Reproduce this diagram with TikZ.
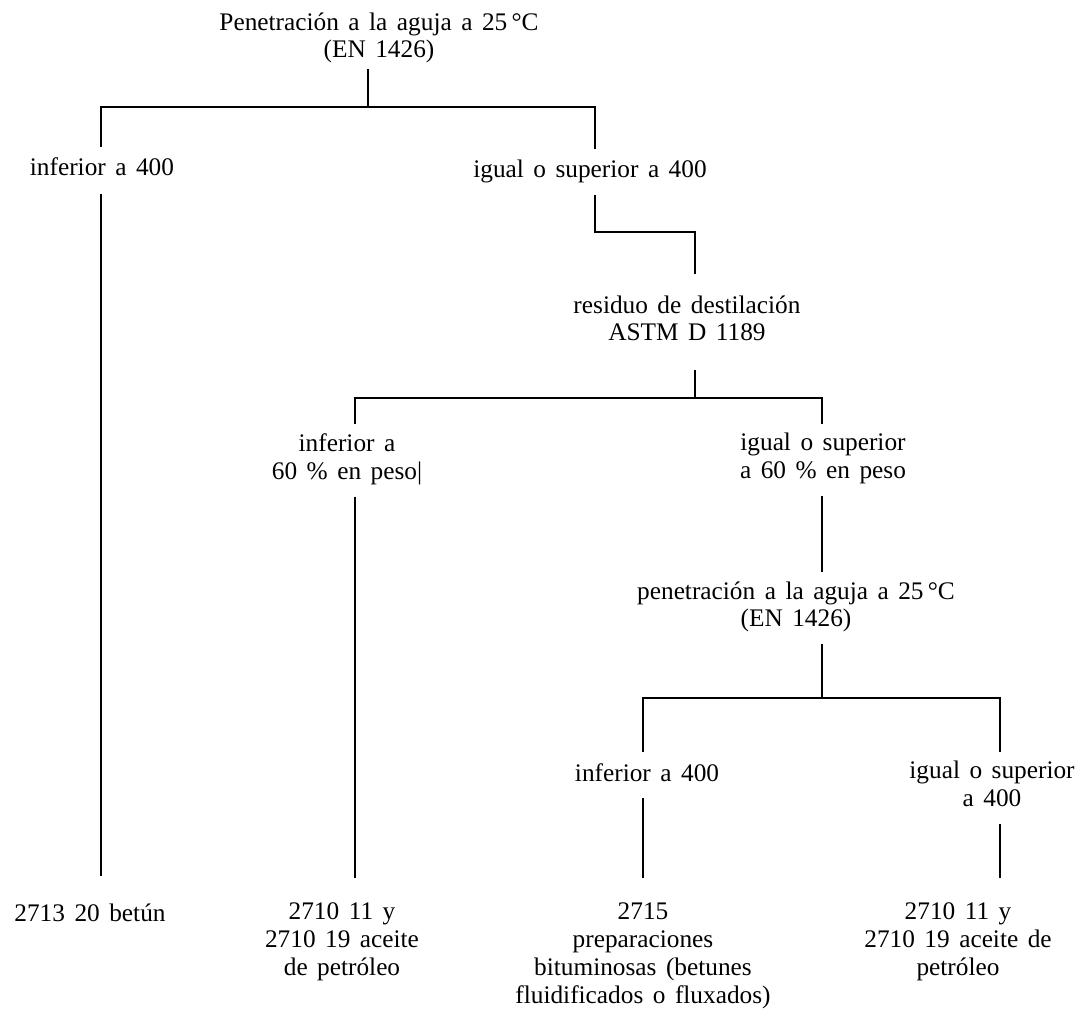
\documentclass[tikz,border=0pt]{standalone}
\usepackage{fontspec}
\setmainfont{Liberation Serif}[WordSpace=1.5]
\usepackage{tikz}
\usetikzlibrary{positioning}
\usetikzlibrary{calc}

\begin{document}
\begin{tikzpicture}[
    x=0.025cm, y=-0.025cm,
    lbl/.style={inner sep=0pt, outer sep=6.4pt, align=center, font=\fontsize{18}{19.9}\selectfont,
        execute at begin node=\strut, execute at end node=\strut},
    leaf/.style={lbl, outer sep=17.8pt},
    link/.style={line width=2.1pt}
]
    \useasboundingbox (0,0) rectangle (1079,1012);

    % texts
    \node[lbl, outer sep=2pt] (top) at (379,39.4) {Penetración a la aguja a 25\,°C\\(EN 1426)};
    \node[lbl, outer sep=7pt] (inf1) at (102,170.4) {inferior a 400};
    \node[lbl] (sup1) at (590,172.4) {igual o superior a 400};
    \node[lbl, outer sep=14.9pt] (res) at (687,322.4) {residuo de destilación\\ASTM D 1189};
    \node[lbl] (inf2) at (347,460.4) {inferior a\\60 \% en peso|};
    \node[lbl] (sup2) at (823,460.4) {igual o superior\\a 60 \% en peso};
    \node[lbl] (pen) at (796,608.4) {penetración a la aguja a 25\,°C\\(EN 1426)};
    \node[lbl] (inf3) at (647,775.4) {inferior a 400};
    \node[lbl] (sup3) at (992,788.4) {igual o superior\\a 400};

    \node[leaf] (betun) at (90,915.4) {2713 20 betún};
    \node[leaf] (oilA) at (342,943.4) {2710 11 y\\2710 19 aceite\\de petróleo};
    \node[leaf] (prep) at (643,957.4) {2715\\preparaciones\\bituminosas (betunes\\fluidificados o fluxados)};
    \node[leaf] (oilB) at (958,943.4) {2710 11 y\\2710 19 aceite de\\petróleo};

    % junctions
    \coordinate (b1m) at (368,107);
    \coordinate (b1l) at (101,107);
    \coordinate (b1r) at (595,107);
    \coordinate (elb1) at (595,232);
    \coordinate (elb2) at (695,232);
    \coordinate (b2m) at (695,398);
    \coordinate (b2l) at (355,398);
    \coordinate (b2r) at (822,398);
    \coordinate (b3m) at (822,698);
    \coordinate (b3l) at (643,698);
    \coordinate (b3r) at (1000,698);

    % tree
    \draw[link] (top.south -| b1m) -- (b1m);
    \draw[link] (inf1.north -| b1l) -- (b1l) -- (b1r) -- (sup1.north -| b1r);
    \draw[link] (inf1.south -| b1l) -- (betun.north -| b1l);
    \draw[link] (sup1.south -| b1r) -- (elb1) -- (elb2) -- (res.north -| elb2);

    \draw[link] (res.south -| b2m) -- (b2m);
    \draw[link] (inf2.north -| b2l) -- (b2l) -- (b2r) -- (sup2.north -| b2r);
    \draw[link] (inf2.south -| b2l) -- (oilA.north -| b2l);
    \draw[link] (sup2.south -| b2r) -- (pen.north -| b2r);

    \draw[link] (pen.south -| b3m) -- (b3m);
    \draw[link] (inf3.north -| b3l) -- (b3l) -- (b3r) -- (sup3.north -| b3r);
    \draw[link] (inf3.south -| b3l) -- (prep.north -| b3l);
    \draw[link] (sup3.south -| b3r) -- (oilB.north -| b3r);
\end{tikzpicture}
\end{document}
